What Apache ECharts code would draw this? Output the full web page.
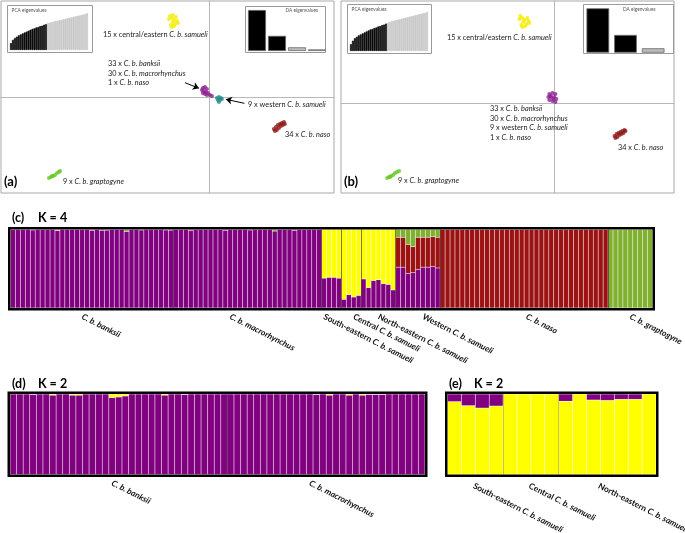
<!DOCTYPE html>
<html><head><meta charset="utf-8">
<script src="https://cdn.jsdelivr.net/npm/echarts@6/dist/echarts.min.js"></script>
<style>html,body{margin:0;padding:0;background:#fff}#c{width:685px;height:533px}</style>
</head><body><div id="c"></div>
<script>
const FONT = 'Lato, "Open Sans", sans-serif';

// ---------------- (a) DAPC scatter (DA1, DA2) ----------------
const aYellow = [[-3.77,10.13],[-3.57,9.88],[-3.38,9.63],[-3.48,9.38],[-3.67,9.0],[-3.29,9.13],[-3.09,9.5],[-3.19,10.0],[-3.57,8.75],[-3.38,8.88],[-3.86,9.75],[-3.0,9.25],[-3.48,10.25]];
const aPurple = [[-0.60,1.13],[-0.40,1.25],[-0.21,1.0],[-0.50,0.75],[-0.31,0.63],[-0.69,0.88],[-0.11,0.5],[-0.40,0.38],[0.08,0.25],[0.27,0.13],[-0.60,0.5],[-0.21,0.25]];
const aTeal = [[0.75,-0.13],[0.94,0.0],[1.13,-0.13],[0.84,-0.38],[1.04,-0.38],[1.23,-0.25],[0.94,-0.63]];
const aRed = [[6.22,-4.0],[6.42,-3.75],[6.61,-3.5],[6.80,-3.38],[6.99,-3.25],[7.19,-3.13],[6.71,-3.88],[6.51,-4.13],[6.90,-3.63],[7.09,-3.5],[6.32,-4.25],[7.28,-3.38]];
const aGreen = [[-15.39,-10.13],[-15.2,-10.0],[-15.0,-9.88],[-14.81,-9.75],[-14.62,-9.5],[-14.43,-9.38],[-14.33,-9.25],[-15.1,-9.88]];
const aArrows = [[[-2.32,1.79],[-0.98,1.09]],[[3.39,-0.79],[1.61,-0.29]]];

// ---------------- (b) DAPC scatter ----------------
const bYellow = [[-2.87,10.24],[-2.70,10.01],[-2.53,9.77],[-2.62,9.54],[-2.78,9.19],[-2.36,9.30],[-2.19,9.66],[-2.28,10.01],[-2.70,8.95],[-2.45,9.07],[-2.95,9.89],[-2.11,9.42]];
const bPurple = [[-0.42,1.10],[-0.16,1.22],[0.09,1.10],[-0.50,0.75],[-0.25,0.75],[0.0,0.75],[0.17,0.52],[-0.42,0.40],[-0.16,0.28],[0.09,0.16],[-0.33,0.87],[-0.08,0.52]];
const bRed = [[5.08,-3.82],[5.25,-3.59],[5.42,-3.47],[5.58,-3.35],[5.75,-3.23],[5.92,-3.12],[5.50,-3.70],[5.33,-3.94],[5.67,-3.59],[5.84,-3.47],[5.16,-4.06],[6.01,-3.23]];
const bGreen = [[-14.11,-8.74],[-13.94,-8.63],[-13.77,-8.51],[-13.60,-8.39],[-13.44,-8.16],[-13.27,-8.04],[-13.10,-7.92],[-13.86,-8.63]];

// ---------------- eigenvalue insets ----------------
const pcaEigA = [0.15,0.22,0.26,0.29,0.32,0.34,0.36,0.38,0.40,0.42,0.44,0.46,0.47,0.49,0.50,0.52,0.53,0.55,0.56,0.59,0.60,0.61,0.62,0.63,0.64,0.65,0.66,0.67,0.68,0.69,0.70,0.71,0.72,0.73,0.74,0.75,0.76,0.77,0.78,0.80];
const pcaEigB = [0.14,0.21,0.26,0.29,0.32,0.34,0.36,0.38,0.40,0.42,0.44,0.45,0.47,0.48,0.50,0.51,0.53,0.54,0.56,0.58,0.60,0.61,0.62,0.63,0.64,0.65,0.66,0.67,0.68,0.69,0.70,0.71,0.72,0.73,0.74,0.75,0.76,0.77,0.78,0.80];
const pcaKeptA = 19, pcaKeptB = 19;
const daEigA = [100,37,9,4];
const daEigB = [100,40,10];
const daKeptA = 2, daKeptB = 2;

// ---------------- (c) STRUCTURE K = 4 ----------------
const k4Groups = ['C. b. banksii','C. b. macrorhynchus','South-eastern C. b. samueli','Central C. b. samueli','North-eastern C. b. samueli','Western C. b. samueli','C. b. naso','C. b. graptogyne'];
const k4Sizes = [33,30,4,4,7,9,34,9];
const k4Yellow = [
  0,0,0,0,0,0,0,0,0,0.012, 0,0,0,0,0,0,0.01,0,0,0, 0,0,0,0,0,0,0,0,0,0, 0,0,0,
  0,0,0,0,0,0,0,0,0,0, 0,0,0,0,0,0,0,0,0,0, 0,0,0,0,0,0,0,0,0,0,
  0.62,0.61,0.61,0.62,
  0.89,0.83,0.86,0.84,
  0.63,0.74,0.65,0.64,0.69,0.70,0.77,
  0,0,0,0,0,0,0,0,0,
  0,0,0,0,0,0,0,0,0,0, 0,0,0,0,0,0,0,0,0,0, 0,0,0,0,0,0,0,0,0,0, 0,0,0,0,
  0,0,0,0,0,0,0,0,0
];
const k4Red = [
  0,0,0,0,0.006,0,0,0,0,0, 0,0,0,0,0,0,0,0,0.01,0.008, 0,0,0,0,0,0,0.006,0,0,0, 0,0.006,0.008,
  0,0,0,0.015,0,0,0,0,0,0, 0.01,0,0,0,0,0.006,0,0,0,0, 0,0,0,0,0.012,0,0,0,0,0,
  0,0,0,0,
  0,0,0,0,
  0,0,0,0,0,0,0,
  0.38,0.38,0.37,0.33,0.41,0.38,0.38,0.38,0.39,
  1,1,1,1,1,1,1,1,1,1, 1,1,1,1,1,1,1,1,1,1, 1,1,1,1,1,1,1,1,1,1, 1,1,1,1,
  0,0,0,0,0,0,0,0,0
];
const k4Green = [
  0,0,0,0,0,0,0,0,0,0, 0,0,0,0,0,0,0,0,0,0, 0,0,0,0.025,0,0,0,0,0,0, 0,0,0,
  0,0,0,0,0,0,0,0,0,0, 0,0,0,0,0,0,0,0,0,0, 0.02,0,0,0,0,0,0,0,0,0,
  0,0,0,0,
  0,0,0,0,
  0,0,0,0,0,0,0,
  0.10,0.10,0.19,0.22,0.10,0.10,0.10,0.09,0.10,
  0,0,0,0,0,0,0,0,0,0, 0,0,0,0,0,0,0,0,0,0, 0,0,0,0,0,0,0,0,0,0, 0,0,0,0,
  1,1,1,1,1,1,1,1,1
];
// purple = remaining ancestry (proportions sum to 1)
const k4Purple = k4Yellow.map((v,i) => +(1 - v - k4Red[i] - k4Green[i]).toFixed(3));

// ---------------- (d) STRUCTURE K = 2 (banksii + macrorhynchus) ----------------
const kdGroups = ['C. b. banksii','C. b. macrorhynchus'];
const kdSizes = [33,30];
const kdYellow = [
  0,0,0,0.006,0,0,0.015,0,0,0.015, 0.015,0,0,0,0,0.045,0.037,0.025,0,0, 0,0,0,0.015,0,0,0.006,0,0,0, 0,0,0,
  0,0,0,0,0,0,0,0,0,0, 0,0,0,0.006,0,0.015,0,0,0.015,0, 0.015,0.006,0.006,0.006,0,0,0,0,0,0
];
const kdPurple = kdYellow.map(v => +(1 - v).toFixed(3));

// ---------------- (e) STRUCTURE K = 2 (samueli) ----------------
const keGroups = ['South-eastern C. b. samueli','Central C. b. samueli','North-eastern C. b. samueli'];
const keSizes = [4,4,7];
const kePurple = [0.095,0.145,0.175,0.15, 0,0,0,0, 0.09,0,0.075,0.08,0.066,0.066,0];
const keYellow = kePurple.map(v => +(1 - v).toFixed(3));

// ---------------- layout ----------------
const C_PURPLE = '#800080', C_YELLOW = '#ffff00', C_RED = '#9c1212', C_GREEN = '#7fb02e';
const grids=[], xAxes=[], yAxes=[], series=[], graphics=[];
const addGrid = g => (grids.push(Object.assign({outerBoundsMode:'none', containLabel:false}, g)), grids.length-1);
const addX = a => (xAxes.push(a), xAxes.length-1);
const addY = a => (yAxes.push(a), yAxes.length-1);

function richName(name){
  const k = name.indexOf('C. b.');
  if (k === 0) return '{i|' + name + '}';
  return '{n|' + name.slice(0,k) + '}{i|' + name.slice(k) + '}';
}
function text(x, y, str, size, opts){
  opts = opts || {};
  const st = {fontSize:size, fontFamily:FONT, fontWeight:opts.weight||'normal', fill:opts.color||'#1a1a1a', color:opts.color||'#1a1a1a'};
  graphics.push({type:'text', z:100, silent:true, style:Object.assign({text:str, x:x, y:y,
    textAlign:opts.align||'left', align:opts.align||'left', textVerticalAlign:'middle', verticalAlign:'middle',
    rich:{i:Object.assign({}, st, {fontStyle:'italic'}), n:Object.assign({}, st)}}, st)});
}
function rect(x,y,w,h,stroke,lw,fill,z){
  graphics.push({type:'rect', z:z, silent:true, shape:{x:x,y:y,width:w,height:h}, style:{stroke:stroke, lineWidth:lw, fill:fill||'none'}});
}

function scatterPanel(box, xr, yr, clusters, arrows){
  const gi = addGrid({left:box[0], top:box[1], width:box[2], height:box[3], show:true, borderColor:'#a8a8a8', borderWidth:1, backgroundColor:'#fff'});
  const ax = {axisLine:{show:true,onZero:true,lineStyle:{color:'#b8b8b8',width:1}}, axisTick:{show:false}, axisLabel:{show:false}, splitLine:{show:false}};
  const xi = addX(Object.assign({type:'value', gridIndex:gi, min:xr[0], max:xr[1]}, ax));
  const yi = addY(Object.assign({type:'value', gridIndex:gi, min:yr[0], max:yr[1]}, ax));
  clusters.forEach((c,k) => {
    const s = {type:'scatter', xAxisIndex:xi, yAxisIndex:yi, data:c[0], symbolSize:4, itemStyle:{color:c[1]}, z:3, silent:true};
    if (k === 0 && arrows) s.markLine = {silent:true, symbol:['none','arrow'], symbolSize:6, label:{show:false},
      lineStyle:{color:'#000', width:1, type:'solid'}, data: arrows.map(a => [{coord:a[0]},{coord:a[1]}])};
    series.push(s);
  });
}

function pcaInset(box, plot, vals, kept, title, tpos){
  rect(box[0]+0.5, box[1]+0.5, box[2], box[3], '#9a9a9a', 1, '#fff', 1);
  const gi = addGrid({left:plot[0], top:plot[1], width:plot[2], height:plot[3]});
  const xi = addX({type:'category', gridIndex:gi, data:vals.map((v,i)=>i+1), show:false});
  const yi = addY({type:'value', gridIndex:gi, min:0, max:1, show:false});
  const items = vals.map((v,i) => { const c = i < kept ? '#0b0b0b' : '#c8c8c8';
    return {value:v, itemStyle:{color:c, borderColor:c, borderWidth:0.7}}; });
  series.push({type:'bar', xAxisIndex:xi, yAxisIndex:yi, data:items, barCategoryGap:'0%', silent:true, z:3});
  text(tpos[0], tpos[1], title, 4.8, {color:'#555'});
}
function daInset(box, plot, vals, kept, title, tpos, gap){
  rect(box[0]+0.5, box[1]+0.5, box[2], box[3], '#9a9a9a', 1, '#fff', 1);
  const gi = addGrid({left:plot[0], top:plot[1], width:plot[2], height:plot[3]});
  const xi = addX({type:'category', gridIndex:gi, data:vals.map((v,i)=>i+1), show:false});
  const yi = addY({type:'value', gridIndex:gi, min:0, max:100, show:false});
  const items = vals.map((v,i) => ({value:v, itemStyle:{color: i < kept ? '#000' : '#bcbcbc', borderColor:'#6a6a6a', borderWidth:0.8}}));
  series.push({type:'bar', xAxisIndex:xi, yAxisIndex:yi, data:items, barCategoryGap:gap, silent:true, z:3});
  text(tpos[0], tpos[1], title, 4.8, {color:'#555'});
}

function structurePanel(box, groups, sizes, layers, labelAt, pad, divColor){
  const n = sizes.reduce((a,b)=>a+b,0);
  const gi = addGrid({left:box[0], top:box[1], width:box[2], height:box[3]});
  const ids = []; for (let i=0;i<n;i++) ids.push(String(i+1));
  const xi = addX({type:'category', gridIndex:gi, data:ids, boundaryGap:true,
    axisLine:{show:false}, axisTick:{show:false}, splitLine:{show:false},
    axisLabel:{show:true, interval:(idx)=>labelAt.indexOf(idx)>=0, rotate:-27, margin:8, padding:[0,0,0,pad||0],
      formatter:(v,idx)=>{const g=labelAt.indexOf(idx); return g>=0 ? richName(groups[g]) : '';},
      rich:{i:{fontStyle:'italic', fontWeight:'bold', fontSize:8.4, fontFamily:FONT, color:'#111'},
            n:{fontWeight:'bold', fontSize:8.4, fontFamily:FONT, color:'#111'}}}});
  const yi = addY({type:'value', gridIndex:gi, min:0, max:1, show:false});
  const stackId = 'st' + gi;
  layers.forEach(l => series.push({type:'bar', xAxisIndex:xi, yAxisIndex:yi, stack:stackId, silent:true,
    barCategoryGap:'0%', data:l[0].map(v => v > 0 ? v : '-'), z:2,
    itemStyle:{color:l[1], borderColor:'rgba(255,255,255,0.16)', borderWidth:0.5}}));
  // group dividers on a hidden value axis spanning the individuals
  const xv = addX({type:'value', gridIndex:gi, min:0, max:n, show:false});
  const bounds = []; let acc = 0; sizes.slice(0,-1).forEach(s => { acc += s; bounds.push(acc); });
  series.push({type:'line', xAxisIndex:xv, yAxisIndex:yi, data:[], z:4, silent:true,
    markLine:{silent:true, symbol:['none','none'], label:{show:false}, animation:false,
      lineStyle:{color:divColor, width:0.8, type:'solid'}, data:bounds.map(b=>({xAxis:b}))}});
  rect(box[0]-1.25, box[1]-1.25, box[2]+2.5, box[3]+2.5, '#000', 2.5, 'none', 100);
}

// panels (a) and (b)
scatterPanel([1,1,333,192], [-20,12], [-12,12],
  [[aYellow,'#f2ec00'],[aPurple,'#8c1f8e'],[aTeal,'#1f8f8c'],[aRed,'#8f1717'],[aGreen,'#63c81f']], aArrows);
scatterPanel([341,1,333,192], [-18,10.1], [-10.5,12],
  [[bYellow,'#f2ec00'],[bPurple,'#8c1f8e'],[bRed,'#8f1717'],[bGreen,'#63c81f']], null);

pcaInset([7,5,85,47], [10,4,78,46], pcaEigA, pcaKeptA, 'PCA eigenvalues', [11.5,10.5]);
daInset([245,6,80,46], [247,10,80,41], daEigA, daKeptA, 'DA eigenvalues', [285.5,10.8], '10%');
pcaInset([347,4,84,49], [350,2,78,49], pcaEigB, pcaKeptB, 'PCA eigenvalues', [351.5,9.5]);
daInset([583,4,90,49], [584,8.3,83,44.4], daEigB, daKeptB, 'DA eigenvalues', [623,9.5], '18%');

// annotations (a)
const AS = 7.3;
text(103,35,'15 x central/eastern {i|C. b. samueli}',AS);
text(108,64,'33 x {i|C. b. banksii}',AS);
text(108,73.5,'30 x {i|C. b. macrorhynchus}',AS);
text(108,83,'1 x {i|C. b. naso}',AS);
text(248,105,'9 x western {i|C. b. samueli}',AS);
text(285,135,'34 x {i|C. b. naso}',AS);
text(63,182,'9 x {i|C. b. graptogyne}',AS);
text(4,182,'(a)',13,{weight:'bold',color:'#000'});
// annotations (b)
text(447,38,'15 x central/eastern {i|C. b. samueli}',AS);
text(490,109,'33 x {i|C. b. banksii}',AS);
text(490,118.5,'30 x {i|C. b. macrorhynchus}',AS);
text(490,128,'9 x western {i|C. b. samueli}',AS);
text(490,137.5,'1 x {i|C. b. naso}',AS);
text(618,148,'34 x {i|C. b. naso}',AS);
text(398,181,'9 x {i|C. b. graptogyne}',AS);
text(344,182,'(b)',13,{weight:'bold',color:'#000'});

// structure panels
structurePanel([10.5,229.5,642,78.5], k4Groups, k4Sizes,
  [[k4Purple,C_PURPLE],[k4Yellow,C_YELLOW],[k4Red,C_RED],[k4Green,C_GREEN]], [14,44,63,69,74,83,104,125], 0, 'rgba(30,0,30,0.7)');
structurePanel([10,394,415,80.5], kdGroups, kdSizes,
  [[kdPurple,C_PURPLE],[kdYellow,C_YELLOW]], [15,45], 0, 'rgba(30,0,30,0.7)');
structurePanel([447.5,394,208.5,80.5], keGroups, keSizes,
  [[keYellow,C_YELLOW],[kePurple,C_PURPLE]], [1,5,10], 6, 'rgba(90,90,60,0.45)');

text(12,218,'(c)',12.5,{weight:'bold',color:'#000'});
text(38,218,'K = 4',12.5,{weight:'bold',color:'#000'});
text(12,384,'(d)',12.5,{weight:'bold',color:'#000'});
text(38,384,'K = 2',12.5,{weight:'bold',color:'#000'});
text(449,384,'(e)',12.5,{weight:'bold',color:'#000'});
text(474,384,'K = 2',12.5,{weight:'bold',color:'#000'});

const chart = echarts.init(document.getElementById('c'), null, {renderer:'canvas'});
chart.setOption({animation:false, backgroundColor:'#fff', grid:grids, xAxis:xAxes, yAxis:yAxes, series:series, graphic:{elements:graphics}});
</script></body></html>
